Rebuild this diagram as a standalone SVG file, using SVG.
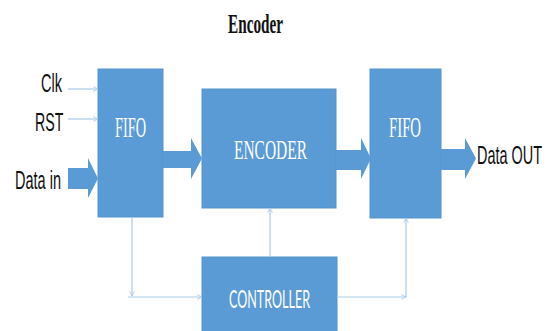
<svg xmlns="http://www.w3.org/2000/svg" width="554" height="331" viewBox="0 0 554 331">
  <style>
    .box { fill: #5B9BD5; stroke: #5593cc; stroke-width: 1; }
    .fat { fill: #5B9BD5; }
    .wire { fill: none; stroke: #A9CBEA; stroke-width: 1.2; }
    .lbl { font-family: "Liberation Sans", Arial, sans-serif; font-size: 26px; fill: #111; }
    .serif { font-family: "Liberation Serif", "Times New Roman", serif; fill: #fff; }
    .sans { font-family: Lato, "Open Sans", sans-serif; fill: #fff; }
    .title { font-family: "Liberation Serif", "Times New Roman", serif; font-weight: bold; font-size: 27px; fill: #111; }
  </style>
  <defs>
    <marker id="chev" viewBox="0 0 10 10" refX="9" refY="5" markerWidth="6" markerHeight="8" markerUnits="userSpaceOnUse" orient="auto">
      <polyline points="1,1 9,5 1,9" fill="none" stroke="#A9CBEA" stroke-width="1.5"/>
    </marker>
  </defs>

  <rect width="554" height="331" fill="#ffffff"/>

  <text class="title" x="228" y="33" textLength="55" lengthAdjust="spacingAndGlyphs">Encoder</text>

  <!-- input labels, narrow-set -->
  <g id="inputs">
    <text class="lbl" transform="translate(41,92) scale(0.56,1)">Clk</text>
    <text class="lbl" transform="translate(35,131) scale(0.545,1)">RST</text>
    <text class="lbl" transform="translate(15,189) scale(0.558,1)">Data in</text>
  </g>

  <g id="fifo-in">
    <rect class="box" x="98" y="69" width="65" height="148"/>
    <text class="serif" x="115" y="137" font-size="30" textLength="31" lengthAdjust="spacingAndGlyphs">FIFO</text>
  </g>

  <g id="encoder">
    <rect class="box" x="202" y="89" width="134" height="119"/>
    <text class="serif" x="234" y="159" font-size="27" textLength="73" lengthAdjust="spacingAndGlyphs">ENCODER</text>
  </g>

  <g id="fifo-out">
    <rect class="box" x="370" y="69" width="71" height="149"/>
    <text class="serif" x="389" y="137" font-size="30" textLength="32" lengthAdjust="spacingAndGlyphs">FIFO</text>
  </g>

  <g id="controller">
    <rect class="box" x="202" y="257" width="135" height="80"/>
    <text class="sans" x="229" y="308" font-size="25" textLength="81" lengthAdjust="spacingAndGlyphs">CONTROLLER</text>
  </g>

  <g id="output">
    <text class="lbl" transform="translate(477,164) scale(0.556,1)">Data OUT</text>
  </g>

  <g id="connectors">
    <!-- wide data-path arrows -->
    <polygon class="fat" points="68,168 88,168 88,158 98,178.5 88,198 88,189 68,189"/>
    <polygon class="fat" points="163,151 191,151 191,138 202,158.5 191,179 191,168 163,168"/>
    <polygon class="fat" points="336,150 361,150 361,138 371,158.5 361,179 361,170 336,170"/>
    <polygon class="fat" points="441,149 465,149 465,138 476,158.5 465,179 465,170 441,170"/>

    <!-- control signals -->
    <line class="wire" x1="68" y1="89" x2="98" y2="89" marker-end="url(#chev)"/>
    <line class="wire" x1="68" y1="119" x2="98" y2="119" marker-end="url(#chev)"/>

    <line class="wire" x1="132" y1="217" x2="132" y2="296" marker-end="url(#chev)"/>
    <line class="wire" x1="128" y1="297" x2="202" y2="297" marker-end="url(#chev)"/>
    <line class="wire" x1="270" y1="257" x2="270" y2="208" marker-end="url(#chev)"/>
    <line class="wire" x1="337" y1="297" x2="406" y2="297" marker-end="url(#chev)"/>
    <line class="wire" x1="406" y1="297" x2="406" y2="218" marker-end="url(#chev)"/>
  </g>
</svg>
